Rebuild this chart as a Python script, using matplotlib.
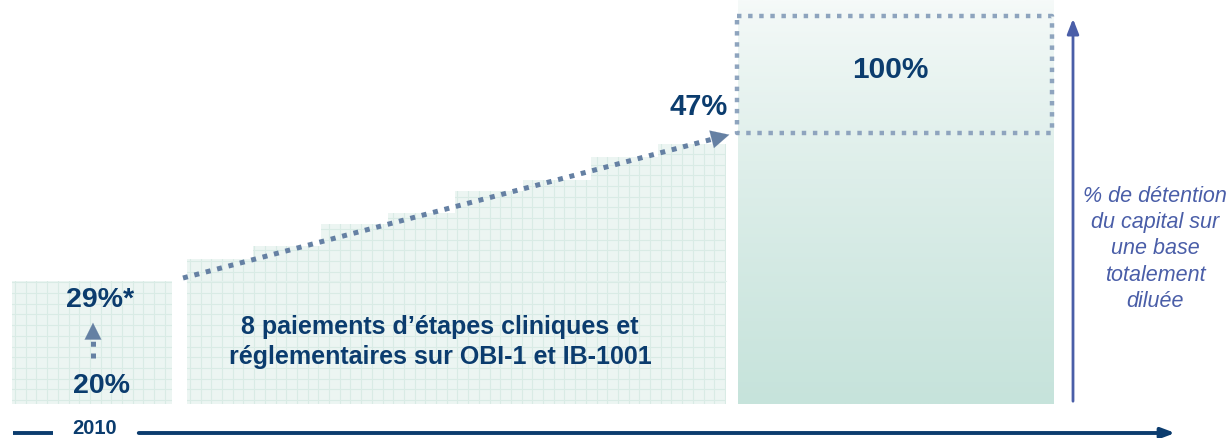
import numpy as np
import matplotlib.pyplot as plt
from matplotlib.patches import Rectangle, Polygon

plt.rcParams['font.family'] = ['Liberation Sans', 'DejaVu Sans']

# schematic values (heights above baseline, in chart units)
start_label = '20%'
start_after = '29%*'
mid_label = '47%'
end_label = '100%'
year_label = '2010'
left_box = [12, 172, 123]            # x0, x1, height
step_edges = [187, 253, 321, 388, 455, 523, 591, 658, 726]
step_tops = [145, 158, 180, 191, 213, 224, 247, 260]
base_height = 123
bar_x = [738, 1054]
bar_top = 404
target_box = [737, 1052, 271, 388]   # x0, x1, y0, y1
trend_start = [183, 126]
trend_end = [732, 270]
step_text = "8 paiements d\u2019\u00e9tapes cliniques et\nr\u00e9glementaires sur OBI-1 et IB-1001"
axis_text = "% de d\u00e9tention\ndu capital sur\nune base\ntotalement\ndilu\u00e9e"

navy = '#0b3c6e'
dot_col = '#6580a3'
box_dot = '#8ea4be'
purple = '#4a5ea8'
fill = '#ecf5f2'
gridc = '#d9ebe5'

fig = plt.figure(figsize=(12.28, 4.38), dpi=100)
ax = fig.add_axes([0, 0, 1, 1])
ax.set_xlim(0, 1228)
ax.set_ylim(-34, 404)
ax.axis('off')


def grid_patch(patch, x0, x1, y0, y1, step=10.7):
    ax.add_patch(patch)
    for gx in np.arange(x0 + 3, x1, step):
        ln, = ax.plot([gx, gx], [y0, y1], color=gridc, lw=0.8, zorder=2)
        ln.set_clip_path(patch)
    for gy in np.arange(y0 + 4, y1, step):
        ln, = ax.plot([x0, x1], [gy, gy], color=gridc, lw=0.8, zorder=2)
        ln.set_clip_path(patch)


# left box
lb = Rectangle((left_box[0], 0), left_box[1] - left_box[0], left_box[2],
               facecolor=fill, edgecolor='none', zorder=1)
grid_patch(lb, left_box[0], left_box[1], 0, left_box[2])

# stepped box
pts = [(step_edges[0], 0)]
for i, h in enumerate(step_tops):
    pts.append((step_edges[i], h))
    pts.append((step_edges[i + 1], h))
pts.append((step_edges[-1], 0))
sb = Polygon(pts, closed=True, facecolor=fill, edgecolor='none', zorder=1)
grid_patch(sb, step_edges[0], step_edges[-1], 0, max(step_tops))
ax.plot([step_edges[0], step_edges[-1]], [base_height, base_height],
        color='#e2f0ec', lw=0.8, zorder=2)

# big gradient bar
grad = np.linspace(0, 1, 256).reshape(-1, 1)
c_top = np.array([0xf6, 0xfa, 0xf9]) / 255
c_bot = np.array([0xc6, 0xe3, 0xdb]) / 255
img = c_top + (c_bot - c_top) * grad[:, :, None] ** 0.8
ax.imshow(img, extent=[bar_x[0], bar_x[1], 0, bar_top], origin='upper',
          aspect='auto', zorder=1)
ax.set_xlim(0, 1228)
ax.set_ylim(-34, 404)

# dotted target box
x0, x1, y0, y1 = target_box
ax.plot([x0, x1, x1, x0, x0], [y1, y1, y0, y0, y1], color=box_dot, lw=3.2,
        linestyle=(0, (1, 1.5)), zorder=3)

# trend arrow
tx = np.array([trend_start[0], trend_end[0] - 16])
ty = np.array([trend_start[1], trend_end[1] - 16 * (trend_end[1] - trend_start[1]) / (trend_end[0] - trend_start[0])])
ax.plot(tx, ty, color=dot_col, lw=3.6, linestyle=(0, (1, 1.35)), zorder=4)
ax.annotate('', xy=trend_end, xytext=(tx[1] - 4, ty[1] - 1),
            arrowprops=dict(arrowstyle='-|>,head_length=1.3,head_width=0.65',
                            color=dot_col, lw=0.1), zorder=4)

# small arrow 20 -> 29
ax.plot([93, 93], [46, 64], color=dot_col, lw=3.6, linestyle=(0, (1, 1.35)), zorder=4)
ax.annotate('', xy=(93, 84), xytext=(93, 66),
            arrowprops=dict(arrowstyle='-|>,head_length=1.2,head_width=0.6',
                            color=dot_col, lw=0.1), zorder=4)

# labels
ax.text(100, 104, start_after, ha='center', va='center', fontsize=20.5,
        fontweight='bold', color=navy, zorder=5)
ax.text(101, 18, start_label, ha='center', va='center', fontsize=20.5,
        fontweight='bold', color=navy, zorder=5)
ax.text(728, 297, mid_label, ha='right', va='center', fontsize=21,
        fontweight='bold', color=navy, zorder=5)
ax.text(890, 334, end_label, ha='center', va='center', fontsize=21.5,
        fontweight='bold', color=navy, zorder=5)
ax.text(440, 62, step_text, ha='center', va='center', fontsize=18,
        fontweight='bold', color=navy, linespacing=1.35, zorder=5)
ax.text(1155, 155, axis_text, ha='center', va='center', fontsize=15.5,
        style='italic', color=purple, linespacing=1.32, zorder=5)

# vertical axis arrow
ax.annotate('', xy=(1073, 388), xytext=(1073, 0),
            arrowprops=dict(arrowstyle='-|>,head_length=0.9,head_width=0.35',
                            color=purple, lw=2))

# time axis
ax.plot([13, 53], [-29, -29], color=navy, lw=2.8, solid_capstyle='butt')
ax.annotate('', xy=(1178, -29), xytext=(136, -29),
            arrowprops=dict(arrowstyle='-|>,head_length=0.8,head_width=0.3',
                            color=navy, lw=2.8))
ax.text(95, -25, year_label, ha='center', va='center', fontsize=14.5,
        fontweight='bold', color=navy)

fig.savefig('out.png', dpi=100)
